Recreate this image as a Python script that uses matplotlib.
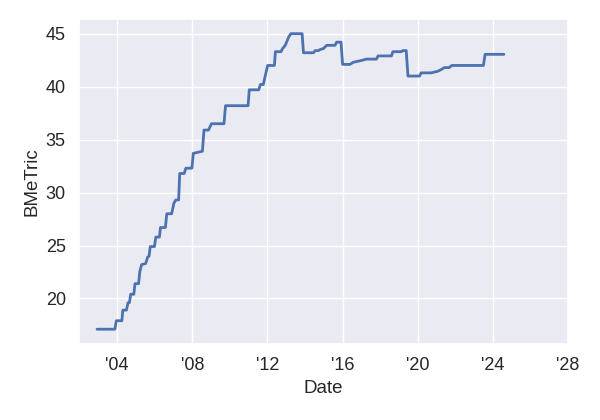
import matplotlib
matplotlib.use("Agg")
import matplotlib.pyplot as plt
import matplotlib.dates as mdates
import pandas as pd
import seaborn as sns

dates = [
    "2002-12-05", "2003-11-17", "2003-12-15", "2004-04-01", "2004-04-20", "2004-06-28",
    "2004-07-30", "2004-08-25", "2004-09-20", "2004-11-20", "2004-12-12", "2005-02-20",
    "2005-03-15", "2005-04-20", "2005-07-08", "2005-08-15", "2005-09-12", "2005-10-05",
    "2005-12-25", "2006-01-22", "2006-04-01", "2006-04-22", "2006-07-27", "2006-08-22",
    "2006-11-25", "2007-01-08", "2007-02-14", "2007-04-10", "2007-05-01", "2007-07-27",
    "2007-08-28", "2007-12-24", "2008-01-20", "2008-07-15", "2008-08-15", "2008-11-10",
    "2009-01-08", "2009-09-08", "2009-10-08", "2010-12-20", "2011-01-12", "2011-07-15",
    "2011-08-18", "2011-10-12", "2011-11-18", "2012-01-05", "2012-05-15", "2012-06-03",
    "2012-09-20", "2012-10-22", "2012-12-12", "2013-02-18", "2013-04-01", "2013-11-05",
    "2013-12-01", "2014-06-15", "2014-07-15", "2014-09-15", "2014-10-20", "2014-12-25",
    "2015-01-25", "2015-02-25", "2015-08-08", "2015-09-05", "2015-12-01", "2016-01-01",
    "2016-05-22", "2016-07-27", "2016-10-30", "2017-03-07", "2017-04-08", "2017-10-20",
    "2017-11-20", "2018-08-08", "2018-09-05", "2019-02-14", "2019-03-18", "2019-05-22",
    "2019-06-25", "2020-02-06", "2020-03-06", "2020-09-16", "2021-01-22", "2021-03-28",
    "2021-06-01", "2021-09-05", "2021-10-22", "2023-07-01", "2023-08-03", "2024-08-03",
]
bmetric = [
    17.1, 17.1, 17.9, 17.9, 18.9, 18.9,
    19.6, 19.6, 20.4, 20.4, 21.4, 21.4,
    22.5, 23.2, 23.3, 23.9, 24.0, 24.9,
    24.9, 25.8, 25.8, 26.7, 26.7, 28.0,
    28.0, 29.0, 29.3, 29.3, 31.8, 31.8,
    32.3, 32.3, 33.7, 33.9, 35.9, 35.9,
    36.5, 36.5, 38.2, 38.2, 39.7, 39.7,
    40.2, 40.2, 41.0, 42.0, 42.0, 43.3,
    43.3, 43.6, 43.9, 44.7, 45.0, 45.0,
    43.2, 43.2, 43.4, 43.4, 43.5, 43.6,
    43.75, 43.9, 43.9, 44.2, 44.2, 42.1,
    42.1, 42.3, 42.4, 42.55, 42.6, 42.6,
    42.9, 42.9, 43.3, 43.3, 43.4, 43.4,
    41.0, 41.0, 41.3, 41.3, 41.45, 41.6,
    41.8, 41.8, 42.0, 42.0, 43.05, 43.05,
]
x_range = ("2001-12-20", "2028-01-01")

sns.set_theme(style="darkgrid")
plt.rcParams["font.family"] = ["Liberation Sans", "DejaVu Sans"]

fig, ax = plt.subplots(figsize=(6, 4.2), dpi=100)
fig.subplots_adjust(left=0.1317, right=0.9467, bottom=0.181, top=0.955)

ax.plot(pd.to_datetime(dates), bmetric, color="#4c72b0", linewidth=2.0)
ax.set_xlim(pd.to_datetime(x_range[0]), pd.to_datetime(x_range[1]))
ax.xaxis.set_major_locator(mdates.YearLocator(4))
ax.xaxis.set_major_formatter(mdates.DateFormatter("'%y"))
ax.tick_params(labelsize=13)
ax.set_xlabel("Date", fontsize=13.5)
ax.set_ylabel("BMeTric", fontsize=13.5)

fig.savefig("out.png", dpi=100)
